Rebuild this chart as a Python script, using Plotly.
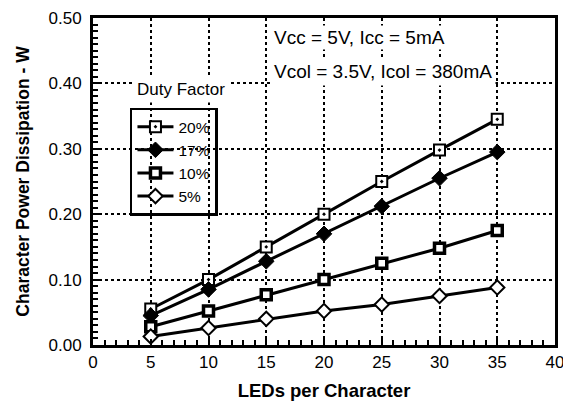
import plotly.graph_objects as go

leds = [5, 10, 15, 20, 25, 30, 35]
p20 = [0.055, 0.100, 0.150, 0.200, 0.250, 0.298, 0.345]
p17 = [0.045, 0.085, 0.128, 0.170, 0.212, 0.255, 0.295]
p10 = [0.028, 0.052, 0.077, 0.100, 0.125, 0.148, 0.175]
p05 = [0.013, 0.026, 0.040, 0.052, 0.062, 0.075, 0.088]
series_names = ["20%", "17%", "10%", "5%"]

FONT = "Liberation Sans, Arial, sans-serif"

fig = go.Figure()
styles = [
    dict(symbol="square-dot", size=11, color="white", line=dict(color="black", width=2)),
    dict(symbol="diamond", size=12, color="black", line=dict(color="black", width=1)),
    dict(symbol="square", size=10, color="white", line=dict(color="black", width=3.5)),
    dict(symbol="diamond", size=11, color="white", line=dict(color="black", width=2)),
]
for name, ys, mk in zip(series_names, [p20, p17, p10, p05], styles):
    fig.add_trace(go.Scatter(
        x=leds, y=ys, name=name, mode="lines+markers",
        line=dict(color="black", width=3), marker=mk,
    ))

axis_common = dict(
    showline=True, linecolor="black", linewidth=3, mirror=True,
    showgrid=True, gridcolor="black", gridwidth=1.5, griddash="dot",
    zeroline=False, ticks="inside", ticklen=6, tickwidth=2, tickcolor="black",
    tickfont=dict(family=FONT, size=17, color="black"), automargin=False,
    ticklabeloverflow="allow",
)
fig.update_xaxes(
    range=[0, 40], dtick=5, **axis_common,
    minor=dict(dtick=1, ticks="inside", ticklen=5, tickwidth=2, tickcolor="black", showgrid=False),
    title=dict(text="<b>LEDs per Character</b>", font=dict(family=FONT, size=18.5, color="black"), standoff=13),
)
fig.update_yaxes(
    range=[0, 0.5], dtick=0.1, tickformat=".2f", ticklabelstandoff=5, **axis_common,
    minor=dict(dtick=0.01, ticks="inside", ticklen=5, tickwidth=2, tickcolor="black", showgrid=False),
    title=dict(text="<b>Character Power Dissipation - W</b>", font=dict(family=FONT, size=17.5, color="black"), standoff=15),
)

fig.add_annotation(xref="paper", yref="paper", x=0.387, y=0.94, xanchor="left", yanchor="middle",
                   text="Vcc = 5V, Icc = 5mA", showarrow=False, bgcolor="white",
                   font=dict(family=FONT, size=19, color="black"))
fig.add_annotation(xref="paper", yref="paper", x=0.383, y=0.837, xanchor="left", yanchor="middle",
                   text="Vcol = 3.5V, Icol = 380mA", showarrow=False, bgcolor="white", borderpad=3,
                   font=dict(family=FONT, size=19, color="black"))
fig.add_annotation(xref="paper", yref="paper", x=0.19, y=0.78, xanchor="center", yanchor="middle",
                   text="Duty Factor", showarrow=False, bgcolor="white", borderpad=3,
                   font=dict(family=FONT, size=17, color="black"))

# The page body adds an 8px offset, so the figure is 8px smaller than the window.
fig.update_layout(
    width=563, height=395,
    margin=dict(l=85, r=16, t=10, b=58),
    paper_bgcolor="white", plot_bgcolor="white",
    font=dict(family=FONT, color="black"),
    legend=dict(x=0.08, y=0.726, xanchor="left", yanchor="top",
                bgcolor="rgba(0,0,0,0)", bordercolor="black", borderwidth=2.5,
                font=dict(family=FONT, size=15.5, color="black"), itemwidth=36,
                entrywidth=62, entrywidthmode="pixels"),
)

fig.write_html("out.html")
